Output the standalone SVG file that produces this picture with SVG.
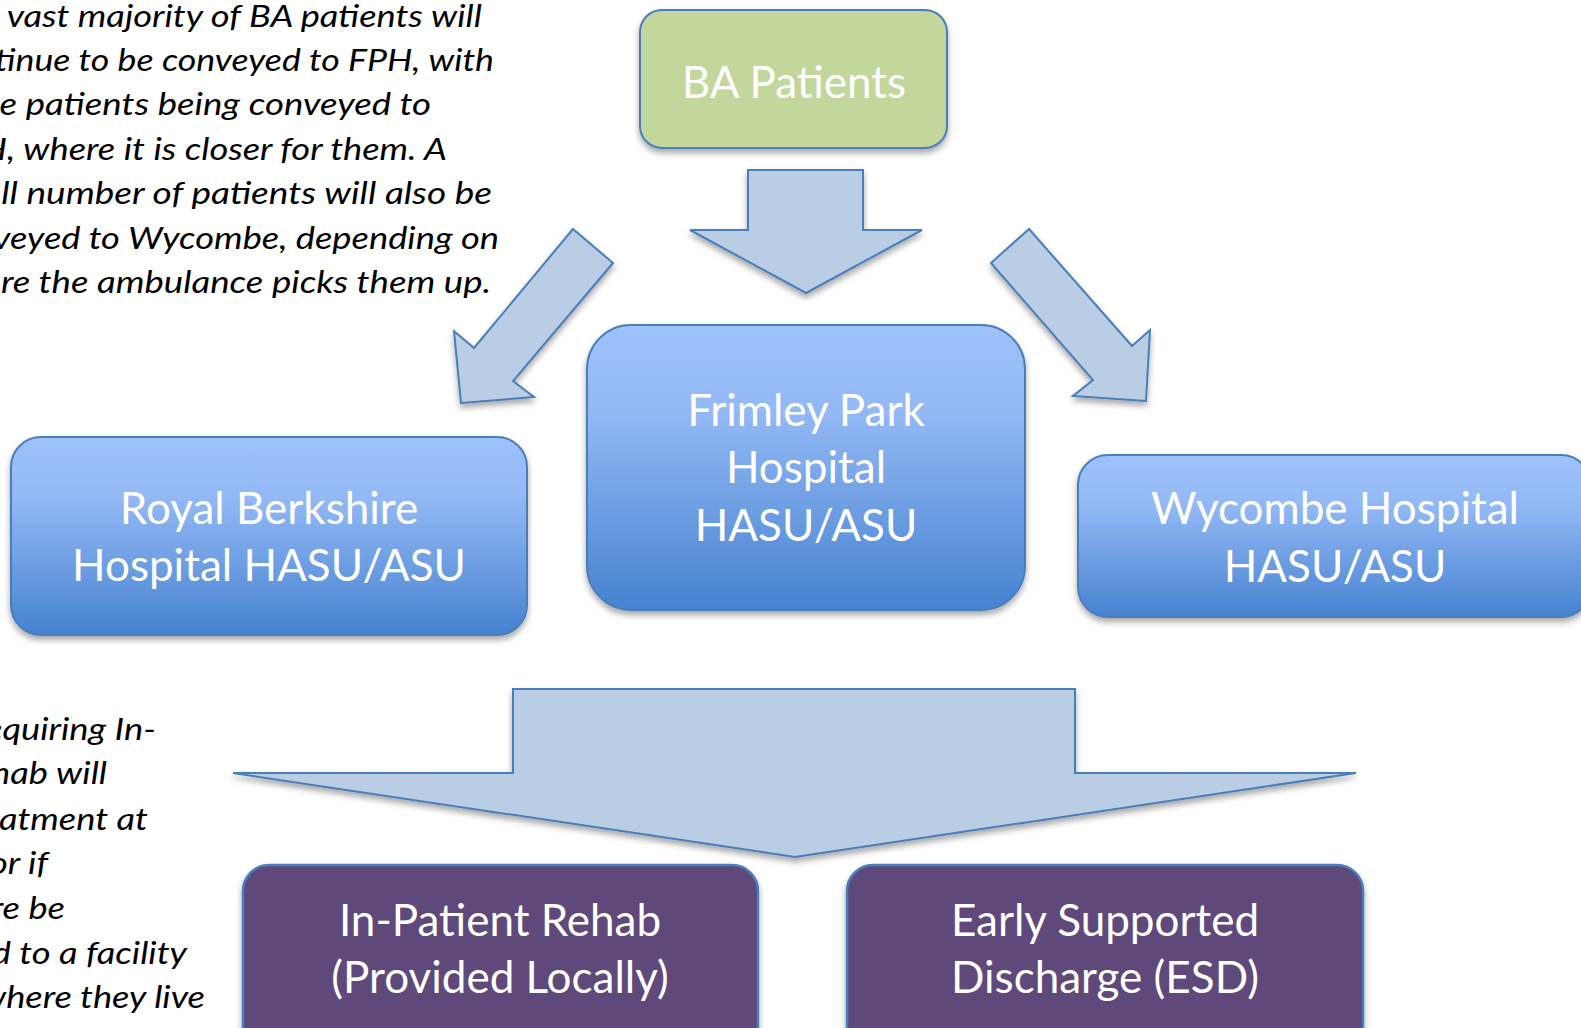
<svg xmlns="http://www.w3.org/2000/svg" width="1581" height="1028" viewBox="0 0 1581 1028">
<defs>
<linearGradient id="blueGrad" x1="0" y1="0" x2="0" y2="1">
<stop offset="0" stop-color="#9EC2FA"/>
<stop offset="0.3" stop-color="#93B9F5"/>
<stop offset="1" stop-color="#4682D0"/>
</linearGradient>
<filter id="shadow" x="-10%" y="-10%" width="120%" height="130%">
<feDropShadow dx="0" dy="4" stdDeviation="3" flood-color="#000" flood-opacity="0.35"/>
</filter>
</defs>
<style>
.blue{fill:url(#blueGrad);stroke:#4A7EBB;stroke-width:2;filter:url(#shadow)}
.green{fill:#C3D69B;stroke:#4A7EBB;stroke-width:2;filter:url(#shadow)}
.purple{fill:#5F497A;stroke:#4A7EBB;stroke-width:2.5;filter:url(#shadow)}
.arrow{fill:#B9CDE5;stroke:#4A7EBB;stroke-width:2;stroke-linejoin:miter;filter:url(#shadow)}
.lbl{font-family:Lato,"Liberation Sans",sans-serif;font-size:44px;fill:#FFFFFF;text-anchor:middle}
.note{font-family:Lato,"Liberation Sans",sans-serif;font-size:30px;font-style:italic;fill:#000000;text-anchor:end}
</style>
<rect width="1581" height="1028" fill="#FFFFFF"/>
<g id="note-top">
<text class="note" transform="scale(1.21 1)" x="398.3" y="27">vast majority of BA patients will</text>
<text class="note" transform="scale(1.19 1)" x="415.1" y="71">tinue to be conveyed to FPH, with</text>
<text class="note" transform="scale(1.221 1)" x="353.0" y="115">e patients being conveyed to</text>
<text class="note" transform="scale(1.21 1)" x="369.4" y="160">H, where it is closer for them. A</text>
<text class="note" transform="scale(1.233 1)" x="399.0" y="204">ll number of patients will also be</text>
<text class="note" transform="scale(1.21 1)" x="412.4" y="249">veyed to Wycombe, depending on</text>
<text class="note" transform="scale(1.22 1)" x="402.5" y="293">re the ambulance picks them up.</text>
</g>
<g id="note-bottom" transform="scale(1.21 1)">
<text class="note" x="128.9" y="740">equiring In-</text>
<text class="note" x="88.4" y="784">hab will</text>
<text class="note" x="122.3" y="830">atment at</text>
<text class="note" x="39.7" y="874">or if</text>
<text class="note" x="53.7" y="919">re be</text>
<text class="note" x="154.5" y="964">d to a facility</text>
<text class="note" x="169.4" y="1008">where they live</text>
</g>
<g id="connectors">
<polygon class="arrow" points="748,170 863,170 863,230 922,230 806,293 690,230 748,230"/>
<polygon class="arrow" points="573,229 613,263 513,381 534,397 461,403 454,331 474,348"/>
<polygon class="arrow" points="1029,229 991,263 1093,380 1073,396 1146,401 1150,330 1132,346"/>
<polygon class="arrow" points="513,689 1075,689 1075,773 1356,773 795,857 233,773 513,773"/>
</g>
<g id="node-ba">
<rect class="green" x="640" y="10" width="307" height="138" rx="22"/>
<text class="lbl" x="794" y="98">BA Patients</text>
</g>
<g id="node-rbh">
<rect class="blue" x="11" y="437" width="516" height="198" rx="30"/>
<text class="lbl" x="269" y="524">Royal Berkshire</text>
<text class="lbl" x="269" y="581">Hospital HASU/ASU</text>
</g>
<g id="node-fph">
<rect class="blue" x="587" y="325" width="438" height="285" rx="44"/>
<text class="lbl" x="806" y="426">Frimley Park</text>
<text class="lbl" x="806" y="483">Hospital</text>
<text class="lbl" x="806" y="541">HASU/ASU</text>
</g>
<g id="node-wyc">
<rect class="blue" x="1078" y="455" width="513" height="162" rx="30"/>
<text class="lbl" x="1335" y="524">Wycombe Hospital</text>
<text class="lbl" x="1335" y="582">HASU/ASU</text>
</g>
<g id="node-rehab">
<rect class="purple" x="243" y="865" width="515" height="190" rx="26"/>
<text class="lbl" x="500" y="936">In-Patient Rehab</text>
<text class="lbl" x="500" y="993">(Provided Locally)</text>
</g>
<g id="node-esd">
<rect class="purple" x="847" y="865" width="516" height="190" rx="26"/>
<text class="lbl" x="1105" y="936">Early Supported</text>
<text class="lbl" x="1105" y="993">Discharge (ESD)</text>
</g>
</svg>
